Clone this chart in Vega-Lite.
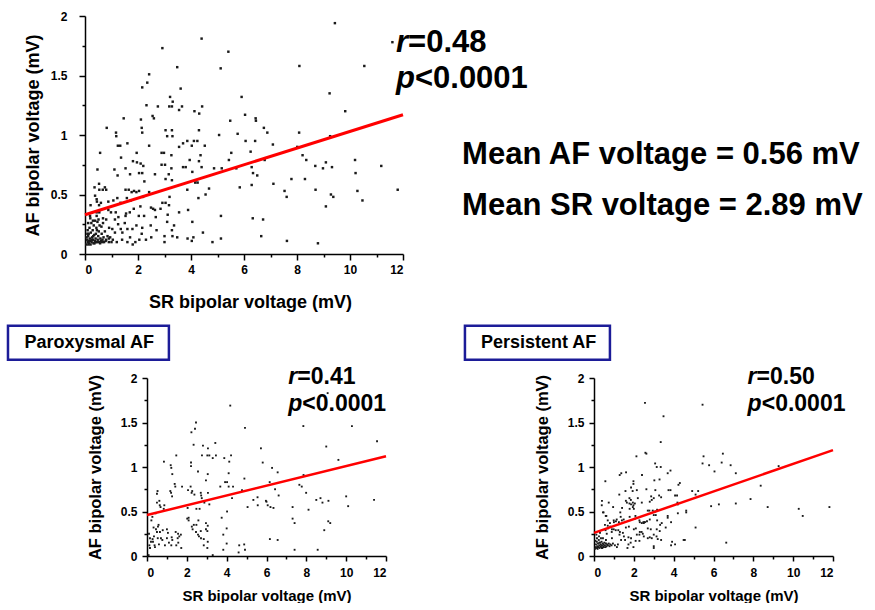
{
"$schema": "https://vega.github.io/schema/vega-lite/v6.json",
"background": "white",
"padding": {"left": 6, "top": 10, "right": 0, "bottom": 0},
"spacing": 13,
"config": {
  "view": {"stroke": null},
  "axis": {"grid": false, "domainColor": "black", "domainWidth": 1.5, "tickColor": "black", "tickWidth": 1.5, "labelFont": "Liberation Sans", "labelFontWeight": "bold", "labelColor": "black", "labelFontSize": 12, "titleFont": "Liberation Sans", "titleFontWeight": "bold", "titleColor": "black"},
  "text": {"font": "Liberation Sans", "fontWeight": "bold", "color": "black"}
},
"datasets": {
  "all": [
{"x":9.43,"y":1.94},{"x":4.40,"y":1.81},{"x":11.6,"y":1.78},{"x":2.92,"y":1.73},{"x":5.41,"y":1.70},{"x":8.09,"y":1.58},{"x":10.54,"y":1.58},{"x":5.12,"y":1.56},{"x":3.48,"y":1.57},{"x":2.42,"y":1.51},{"x":2.35,"y":1.44},{"x":3.61,"y":1.39},{"x":2.16,"y":1.40},{"x":9.23,"y":1.35},{"x":5.91,"y":1.32},{"x":3.21,"y":1.32},{"x":3.31,"y":1.28},{"x":2.32,"y":1.25},{"x":2.75,"y":1.24},{"x":3.18,"y":1.24},{"x":3.28,"y":1.24},{"x":3.66,"y":1.24},{"x":4.42,"y":1.24},{"x":3.55,"y":1.21},{"x":4.13,"y":1.20},{"x":4.31,"y":1.18},{"x":9.82,"y":1.20},{"x":2.55,"y":1.16},{"x":2.6,"y":1.14},{"x":1.46,"y":1.14},{"x":2.11,"y":1.13},{"x":5.48,"y":1.12},{"x":6.04,"y":1.17},{"x":6.44,"y":1.14},{"x":6.45,"y":1.12},{"x":0.82,"y":1.06},{"x":2.14,"y":1.06},{"x":6.75,"y":1.06},{"x":3.04,"y":1.04},{"x":3.28,"y":1.04},{"x":2.16,"y":1.02},{"x":4.30,"y":1.04},{"x":6.88,"y":1.02},{"x":8.08,"y":1.02},{"x":1.17,"y":1.02},{"x":5.76,"y":1.01},{"x":5.06,"y":1.00},{"x":3.1,"y":0.99},{"x":3.3,"y":0.99},{"x":9.25,"y":0.99},{"x":1.18,"y":0.99},{"x":1.60,"y":0.93},{"x":3.70,"y":0.93},{"x":3.86,"y":0.95},{"x":4.03,"y":0.91},{"x":4.11,"y":0.95},{"x":4.24,"y":0.95},{"x":4.52,"y":0.91},{"x":6.06,"y":0.95},{"x":6.42,"y":0.95},{"x":7.09,"y":0.92},{"x":1.24,"y":0.91},{"x":1.33,"y":0.91},{"x":2.42,"y":0.91},{"x":3.55,"y":0.90},{"x":0.57,"y":0.85},{"x":1.95,"y":0.85},{"x":2.89,"y":0.85},{"x":2.98,"y":0.85},{"x":5.52,"y":0.85},{"x":8.01,"y":0.90},{"x":4.36,"y":0.83},{"x":3.26,"y":0.83},{"x":8.21,"y":0.83},{"x":6.25,"y":0.86},{"x":8.35,"y":0.79},{"x":10.19,"y":0.79},{"x":6.78,"y":0.79},{"x":1.81,"y":0.78},{"x":3.95,"y":0.79},{"x":4.30,"y":0.78},{"x":1.36,"y":0.81},{"x":1.96,"y":0.77},{"x":2.10,"y":0.76},{"x":2.20,"y":0.74},{"x":2.89,"y":0.75},{"x":3.02,"y":0.75},{"x":3.7,"y":0.73},{"x":3.8,"y":0.73},{"x":4.40,"y":0.73},{"x":5.43,"y":0.79},{"x":6.29,"y":0.73},{"x":5.71,"y":0.72},{"x":9.09,"y":0.77},{"x":9.32,"y":0.73},{"x":11.18,"y":0.74},{"x":8.69,"y":0.74},{"x":8.98,"y":0.72},{"x":1.11,"y":0.71},{"x":0.47,"y":0.71},{"x":1.53,"y":0.72},{"x":3.26,"y":0.72},{"x":3.16,"y":0.67},{"x":4.87,"y":0.72},{"x":5.16,"y":0.72},{"x":4.05,"y":0.69},{"x":6.34,"y":0.68},{"x":6.50,"y":0.66},{"x":10.21,"y":0.68},{"x":1.23,"y":0.66},{"x":1.70,"y":0.67},{"x":2.04,"y":0.68},{"x":2.16,"y":0.68},{"x":2.64,"y":0.67},{"x":3.04,"y":0.63},{"x":3.28,"y":0.62},{"x":4.19,"y":0.62},{"x":7.79,"y":0.63},{"x":8.30,"y":0.63},{"x":7.11,"y":0.59},{"x":4.16,"y":0.60},{"x":4.25,"y":0.60},{"x":2.24,"y":0.61},{"x":0.53,"y":0.59},{"x":0.75,"y":0.56},{"x":0.36,"y":0.56},{"x":0.54,"y":0.54},{"x":0.67,"y":0.54},{"x":0.8,"y":0.54},{"x":1.85,"y":0.53},{"x":1.94,"y":0.52},{"x":2.04,"y":0.53},{"x":1.53,"y":0.54},{"x":1.65,"y":0.54},{"x":8.70,"y":0.54},{"x":11.8,"y":0.54},{"x":10.28,"y":0.53},{"x":3.86,"y":0.54},{"x":4.68,"y":0.55},{"x":5.84,"y":0.56},{"x":6.29,"y":0.58},{"x":7.53,"y":0.53},{"x":2.42,"y":0.52},{"x":1.76,"y":0.52},{"x":4.55,"y":0.50},{"x":4.28,"y":0.47},{"x":7.61,"y":0.48},{"x":9.28,"y":0.50},{"x":9.37,"y":0.48},{"x":10.47,"y":0.45},{"x":0.38,"y":0.49},{"x":0.44,"y":0.46},{"x":0.45,"y":0.44},{"x":1.22,"y":0.47},{"x":1.58,"y":0.47},{"x":1.72,"y":0.45},{"x":2.19,"y":0.48},{"x":3.19,"y":0.48},{"x":2.92,"y":0.43},{"x":3.04,"y":0.43},{"x":0.21,"y":0.41},{"x":0.6,"y":0.43},{"x":0.53,"y":0.41},{"x":1.07,"y":0.45},{"x":0.88,"y":0.44},{"x":1.34,"y":0.43},{"x":9.09,"y":0.40},{"x":3.89,"y":0.37},{"x":2.49,"y":0.39},{"x":2.64,"y":0.37},{"x":2.57,"y":0.38},{"x":2.09,"y":0.40},{"x":1.84,"y":0.38},{"x":1.16,"y":0.35},{"x":1.55,"y":0.34},{"x":1.69,"y":0.35},{"x":0.88,"y":0.37},{"x":0.98,"y":0.35},{"x":0.44,"y":0.35},{"x":0.54,"y":0.35},{"x":0.19,"y":0.32},{"x":0.44,"y":0.32},{"x":0.51,"y":0.29},{"x":0.68,"y":0.30},{"x":0.80,"y":0.29},{"x":1.13,"y":0.29},{"x":1.26,"y":0.31},{"x":1.53,"y":0.32},{"x":2.03,"y":0.32},{"x":2.23,"y":0.32},{"x":2.67,"y":0.31},{"x":2.85,"y":0.38},{"x":3.12,"y":0.33},{"x":3.55,"y":0.35},{"x":3.17,"y":0.41},{"x":5.13,"y":0.32},{"x":6.33,"y":0.30},{"x":6.72,"y":0.29},{"x":4.05,"y":0.27},{"x":1.94,"y":0.24},{"x":1.79,"y":0.21},{"x":2.16,"y":0.22},{"x":2.48,"y":0.24},{"x":2.70,"y":0.20},{"x":3.1,"y":0.27},{"x":3.36,"y":0.24},{"x":3.28,"y":0.20},{"x":4.45,"y":0.18},{"x":1.35,"y":0.21},{"x":1.41,"y":0.18},{"x":1.13,"y":0.18},{"x":1.03,"y":0.21},{"x":0.91,"y":0.22},{"x":1.6,"y":0.21},{"x":2.14,"y":0.17},{"x":3.0,"y":0.15},{"x":3.0,"y":0.10},{"x":3.3,"y":0.15},{"x":3.48,"y":0.14},{"x":3.87,"y":0.13},{"x":4.03,"y":0.11},{"x":4.09,"y":0.14},{"x":4.81,"y":0.10},{"x":5.13,"y":0.13},{"x":6.65,"y":0.15},{"x":7.62,"y":0.11},{"x":8.79,"y":0.09},
{"x":1.2,"y":0.1},{"x":1.4,"y":0.12},{"x":1.6,"y":0.1},{"x":1.8,"y":0.08},{"x":1.9,"y":0.1},{"x":2.3,"y":0.12},{"x":2.5,"y":0.14},{"x":1.0,"y":0.1},{"x":0.9,"y":0.13},{"x":1.7,"y":0.14},{"x":2.05,"y":0.12},{"x":1.25,"y":0.25},{"x":1.5,"y":0.26},
{"x":0.05,"y":0.08},{"x":0.08,"y":0.12},{"x":0.1,"y":0.1},{"x":0.12,"y":0.15},{"x":0.15,"y":0.09},{"x":0.18,"y":0.13},{"x":0.2,"y":0.11},{"x":0.22,"y":0.18},{"x":0.25,"y":0.1},{"x":0.27,"y":0.14},{"x":0.3,"y":0.12},{"x":0.32,"y":0.09},{"x":0.35,"y":0.16},{"x":0.37,"y":0.11},{"x":0.4,"y":0.13},{"x":0.42,"y":0.1},{"x":0.45,"y":0.2},{"x":0.48,"y":0.12},{"x":0.5,"y":0.15},{"x":0.53,"y":0.1},{"x":0.55,"y":0.24},{"x":0.58,"y":0.13},{"x":0.6,"y":0.11},{"x":0.63,"y":0.17},{"x":0.66,"y":0.12},{"x":0.7,"y":0.14},{"x":0.72,"y":0.1},{"x":0.75,"y":0.19},{"x":0.8,"y":0.12},{"x":0.85,"y":0.15},{"x":0.1,"y":0.2},{"x":0.14,"y":0.17},{"x":0.17,"y":0.22},{"x":0.24,"y":0.26},{"x":0.29,"y":0.2},{"x":0.33,"y":0.24},{"x":0.38,"y":0.28},{"x":0.43,"y":0.22},{"x":0.47,"y":0.27},{"x":0.52,"y":0.19},{"x":0.62,"y":0.23},{"x":0.68,"y":0.26},{"x":0.06,"y":0.14},{"x":0.09,"y":0.17},{"x":0.13,"y":0.08},{"x":0.16,"y":0.11},{"x":0.21,"y":0.08},{"x":0.26,"y":0.12},{"x":0.31,"y":0.15},{"x":0.36,"y":0.09},{"x":0.41,"y":0.17},{"x":0.46,"y":0.1},{"x":0.57,"y":0.09},{"x":0.65,"y":0.1},{"x":0.78,"y":0.11},{"x":0.9,"y":0.1},{"x":0.95,"y":0.14},{"x":1.05,"y":0.12},{"x":0.2,"y":0.3},{"x":0.3,"y":0.28},{"x":0.12,"y":0.26}
  ],
  "par": [
{"x":4.18,"y":1.69},{"x":7.85,"y":1.46},{"x":10.29,"y":1.46},{"x":4.92,"y":1.44},{"x":2.46,"y":1.50},{"x":2.41,"y":1.43},{"x":2.23,"y":1.39},{"x":2.34,"y":1.25},{"x":3.43,"y":1.27},{"x":2.81,"y":1.24},{"x":3.06,"y":1.21},{"x":11.55,"y":1.29},{"x":5.72,"y":1.21},{"x":9.0,"y":1.23},{"x":1.47,"y":1.13},{"x":2.76,"y":1.13},{"x":3.03,"y":1.13},{"x":3.13,"y":1.13},{"x":3.46,"y":1.13},{"x":4.22,"y":1.13},{"x":3.88,"y":1.10},{"x":4.13,"y":1.06},{"x":3.30,"y":1.10},{"x":0.85,"y":1.06},{"x":1.19,"y":1.02},{"x":1.22,"y":0.99},{"x":2.21,"y":1.05},{"x":2.21,"y":1.01},{"x":5.81,"y":1.05},{"x":6.28,"y":0.99},{"x":9.61,"y":1.08},{"x":2.56,"y":0.95},{"x":6.56,"y":0.94},{"x":3.05,"y":0.92},{"x":1.27,"y":0.92},{"x":4.10,"y":0.93},{"x":7.86,"y":0.91},{"x":2.96,"y":0.85},{"x":4.89,"y":0.87},{"x":3.92,"y":0.83},{"x":4.02,"y":0.83},{"x":1.39,"y":0.81},{"x":1.42,"y":0.78},{"x":4.10,"y":0.78},{"x":4.32,"y":0.78},{"x":1.76,"y":0.78},{"x":2.19,"y":0.78},{"x":3.68,"y":0.78},{"x":7.65,"y":0.80},{"x":6.16,"y":0.83},{"x":2.06,"y":0.74},{"x":4.27,"y":0.65},{"x":2.24,"y":0.71},{"x":2.38,"y":0.69},{"x":2.7,"y":0.71},{"x":2.72,"y":0.68},{"x":2.75,"y":0.65},{"x":3.06,"y":0.71},{"x":1.21,"y":0.71},{"x":1.26,"y":0.67},{"x":0.50,"y":0.70},{"x":5.34,"y":0.63},{"x":4.77,"y":0.74},{"x":6.43,"y":0.75},{"x":6.61,"y":0.68},{"x":7.99,"y":0.71},{"x":7.77,"y":0.78},{"x":9.11,"y":0.62},{"x":8.50,"y":0.63},{"x":8.71,"y":0.65},{"x":11.40,"y":0.63},{"x":10.0,"y":0.67},{"x":10.1,"y":0.56},{"x":6.0,"y":0.61},{"x":6.06,"y":0.57},{"x":6.2,"y":0.55},{"x":6.35,"y":0.54},{"x":7.31,"y":0.55},{"x":8.11,"y":0.52},{"x":8.81,"y":0.60},{"x":5.56,"y":0.57},{"x":5.05,"y":0.55},{"x":0.84,"y":0.53},{"x":0.64,"y":0.57},{"x":0.68,"y":0.55},{"x":0.50,"y":0.60},{"x":2.04,"y":0.54},{"x":2.48,"y":0.53},{"x":2.64,"y":0.53},{"x":2.88,"y":0.60},{"x":3.13,"y":0.58},{"x":3.75,"y":0.43},{"x":4.02,"y":0.50},{"x":2.09,"y":0.43},{"x":2.09,"y":0.40},{"x":2.58,"y":0.40},{"x":2.96,"y":0.37},{"x":3.05,"y":0.34},{"x":2.29,"y":0.30},{"x":2.96,"y":0.30},{"x":0.22,"y":0.40},{"x":0.33,"y":0.32},{"x":0.45,"y":0.30},{"x":0.50,"y":0.27},{"x":0.55,"y":0.33},{"x":0.58,"y":0.35},{"x":0.65,"y":0.27},{"x":0.79,"y":0.29},{"x":1.00,"y":0.30},{"x":1.44,"y":0.27},{"x":1.56,"y":0.25},{"x":1.70,"y":0.24},{"x":1.62,"y":0.22},{"x":0.35,"y":0.22},{"x":0.28,"y":0.19},{"x":0.54,"y":0.20},{"x":0.70,"y":0.20},{"x":0.77,"y":0.18},{"x":1.0,"y":0.20},{"x":1.24,"y":0.21},{"x":1.27,"y":0.18},{"x":1.54,"y":0.20},{"x":1.57,"y":0.15},{"x":1.72,"y":0.09},{"x":1.47,"y":0.12},{"x":1.22,"y":0.12},{"x":0.12,"y":0.12},{"x":0.15,"y":0.09},{"x":0.2,"y":0.16},{"x":0.30,"y":0.16},{"x":0.38,"y":0.12},{"x":0.08,"y":0.01},{"x":2.48,"y":0.35},{"x":2.46,"y":0.27},{"x":2.56,"y":0.24},{"x":2.61,"y":0.22},{"x":2.71,"y":0.20},{"x":2.85,"y":0.12},{"x":3.03,"y":0.09},{"x":3.30,"y":0.01},{"x":3.83,"y":0.07},{"x":3.83,"y":0.24},{"x":4.60,"y":0.04},{"x":4.92,"y":0.07},{"x":6.17,"y":0.19},{"x":6.56,"y":0.18},{"x":7.41,"y":0.07},{"x":8.57,"y":0.07},{"x":7.31,"y":0.42},{"x":7.41,"y":0.37},{"x":8.9,"y":0.29},{"x":9.1,"y":0.39},{"x":9.2,"y":0.37},{"x":0.27,"y":0.44},{"x":0.43,"y":0.48},{"x":0.62,"y":0.62},{"x":0.87,"y":0.57},{"x":1.17,"y":0.73},{"x":0.53,"y":0.73},{"x":2.27,"y":0.73},{"x":5.97,"y":0.62},{"x":5.55,"y":0.66},{"x":4.0,"y":0.31},{"x":4.00,"y":0.14},{"x":4.63,"y":0.12},{"x":4.88,"y":0.13},{"x":2.02,"y":0.42},{"x":2.35,"y":0.35},{"x":2.25,"y":0.33},{"x":2.70,"y":0.28},{"x":3.03,"y":0.28},{"x":2.85,"y":0.19},{"x":3.05,"y":0.16},{"x":0.1,"y":0.25},{"x":0.15,"y":0.2},{"x":0.4,"y":0.1},{"x":0.9,"y":0.12},{"x":1.05,"y":0.26},{"x":1.1,"y":0.15},{"x":0.6,"y":0.13},{"x":9.07,"y":1.83}
  ],
  "per": [
{"x":2.56,"y":1.72},{"x":5.45,"y":1.70},{"x":3.49,"y":1.57},{"x":3.35,"y":1.28},{"x":2.58,"y":1.16},{"x":2.63,"y":1.15},{"x":2.13,"y":1.12},{"x":5.50,"y":1.12},{"x":6.47,"y":1.15},{"x":5.45,"y":1.04},{"x":5.78,"y":1.02},{"x":6.41,"y":1.05},{"x":6.86,"y":1.02},{"x":6.05,"y":0.95},{"x":7.12,"y":0.93},{"x":9.27,"y":1.01},{"x":3.07,"y":1.04},{"x":3.15,"y":1.00},{"x":3.35,"y":1.00},{"x":3.70,"y":0.93},{"x":3.84,"y":0.96},{"x":1.29,"y":0.91},{"x":1.37,"y":0.93},{"x":1.61,"y":0.94},{"x":2.41,"y":0.91},{"x":0.57,"y":0.84},{"x":1.98,"y":0.84},{"x":3.03,"y":0.85},{"x":3.29,"y":0.86},{"x":4.31,"y":0.82},{"x":4.24,"y":0.80},{"x":1.98,"y":0.81},{"x":1.27,"y":0.69},{"x":1.58,"y":0.73},{"x":1.86,"y":0.77},{"x":1.94,"y":0.73},{"x":2.15,"y":0.74},{"x":2.63,"y":0.75},{"x":3.08,"y":0.74},{"x":3.74,"y":0.74},{"x":3.84,"y":0.74},{"x":4.07,"y":0.68},{"x":4.17,"y":0.68},{"x":4.93,"y":0.73},{"x":5.23,"y":0.73},{"x":5.10,"y":0.69},{"x":3.27,"y":0.68},{"x":3.37,"y":0.66},{"x":2.87,"y":0.67},{"x":2.9,"y":0.63},{"x":3.0,"y":0.65},{"x":2.8,"y":0.61},{"x":1.78,"y":0.65},{"x":1.85,"y":0.63},{"x":2.2,"y":0.65},{"x":8.37,"y":0.79},{"x":7.86,"y":0.64},{"x":7.12,"y":0.59},{"x":6.27,"y":0.58},{"x":5.88,"y":0.56},{"x":8.72,"y":0.55},{"x":10.28,"y":0.53},{"x":10.48,"y":0.45},{"x":11.82,"y":0.55},{"x":5.10,"y":0.32},{"x":6.64,"y":0.15},{"x":4.63,"y":0.51},{"x":4.63,"y":0.49},{"x":4.19,"y":0.60},{"x":4.21,"y":0.58},{"x":4.21,"y":0.48},{"x":3.87,"y":0.38},{"x":3.70,"y":0.43},{"x":3.07,"y":0.50},{"x":3.17,"y":0.52},{"x":3.0,"y":0.46},{"x":3.1,"y":0.46},{"x":2.7,"y":0.51},{"x":2.78,"y":0.51},{"x":2.56,"y":0.38},{"x":2.66,"y":0.39},{"x":2.48,"y":0.38},{"x":2.28,"y":0.40},{"x":2.06,"y":0.42},{"x":1.98,"y":0.57},{"x":1.95,"y":0.55},{"x":2.0,"y":0.53},{"x":1.79,"y":0.53},{"x":1.41,"y":0.54},{"x":0.96,"y":0.55},{"x":0.39,"y":0.57},{"x":0.45,"y":0.49},{"x":0.59,"y":0.45},{"x":0.69,"y":0.40},{"x":0.99,"y":0.40},{"x":1.14,"y":0.41},{"x":1.34,"y":0.44},{"x":1.40,"y":0.40},{"x":0.55,"y":0.35},{"x":0.69,"y":0.34},{"x":0.82,"y":0.33},{"x":0.99,"y":0.30},{"x":1.09,"y":0.29},{"x":1.22,"y":0.29},{"x":0.89,"y":0.27},{"x":0.64,"y":0.25},{"x":1.28,"y":0.24},{"x":1.36,"y":0.18},{"x":1.56,"y":0.18},{"x":1.73,"y":0.21},{"x":1.86,"y":0.20},{"x":1.73,"y":0.13},{"x":1.68,"y":0.09},{"x":1.84,"y":0.15},{"x":2.09,"y":0.17},{"x":2.28,"y":0.17},{"x":1.98,"y":0.10},{"x":2.70,"y":0.20},{"x":3.0,"y":0.24},{"x":3.14,"y":0.22},{"x":3.0,"y":0.11},{"x":3.0,"y":0.09},{"x":3.37,"y":0.18},{"x":3.87,"y":0.12},{"x":4.07,"y":0.13},{"x":4.56,"y":0.18},{"x":2.28,"y":0.24},{"x":2.39,"y":0.27},{"x":2.53,"y":0.38},{"x":3.40,"y":0.37},{"x":3.32,"y":0.35},{"x":3.60,"y":0.32},{"x":3.92,"y":0.16},{"x":0.40,"y":0.62},{"x":0.74,"y":0.60},{"x":1.6,"y":0.62},{"x":1.65,"y":0.60},{"x":1.78,"y":0.59},{"x":1.86,"y":0.58},{"x":1.95,"y":0.60},{"x":2.05,"y":0.59},{"x":2.4,"y":0.60},{"x":2.95,"y":0.51},{"x":0.48,"y":0.49},{"x":0.62,"y":0.45},{"x":1.32,"y":0.49},{"x":1.79,"y":0.44},{"x":2.08,"y":0.45},{"x":1.49,"y":0.41},{"x":2.3,"y":0.38},{"x":2.4,"y":0.37},{"x":2.5,"y":0.37},{"x":2.8,"y":0.41},{"x":3.17,"y":0.40},{"x":3.7,"y":0.45},{"x":0.8,"y":0.37},{"x":1.0,"y":0.38},{"x":1.1,"y":0.39},{"x":1.25,"y":0.38},{"x":0.7,"y":0.31},{"x":0.58,"y":0.29},{"x":0.9,"y":0.30},{"x":1.6,"y":0.32},{"x":1.75,"y":0.33},{"x":2.0,"y":0.30},{"x":2.1,"y":0.31},{"x":2.3,"y":0.27},{"x":2.45,"y":0.25},{"x":2.15,"y":0.24},{"x":2.7,"y":0.31},{"x":2.85,"y":0.30},{"x":3.15,"y":0.30},{"x":3.3,"y":0.28},{"x":1.3,"y":0.27},{"x":1.45,"y":0.26},{"x":1.5,"y":0.22},{"x":2.5,"y":0.22},{"x":2.8,"y":0.21},{"x":2.9,"y":0.20},{"x":3.2,"y":0.19},{"x":4.5,"y":0.18},
{"x":0.05,"y":0.08},{"x":0.08,"y":0.1},{"x":0.1,"y":0.13},{"x":0.12,"y":0.09},{"x":0.14,"y":0.16},{"x":0.16,"y":0.11},{"x":0.18,"y":0.08},{"x":0.2,"y":0.14},{"x":0.22,"y":0.1},{"x":0.24,"y":0.18},{"x":0.26,"y":0.12},{"x":0.28,"y":0.09},{"x":0.3,"y":0.15},{"x":0.32,"y":0.11},{"x":0.34,"y":0.13},{"x":0.36,"y":0.1},{"x":0.38,"y":0.16},{"x":0.4,"y":0.12},{"x":0.42,"y":0.09},{"x":0.44,"y":0.14},{"x":0.46,"y":0.11},{"x":0.48,"y":0.13},{"x":0.5,"y":0.1},{"x":0.52,"y":0.15},{"x":0.55,"y":0.12},{"x":0.58,"y":0.1},{"x":0.6,"y":0.14},{"x":0.63,"y":0.11},{"x":0.66,"y":0.13},{"x":0.7,"y":0.12},{"x":0.74,"y":0.14},{"x":0.78,"y":0.11},{"x":0.82,"y":0.13},{"x":0.88,"y":0.12},{"x":0.95,"y":0.14},{"x":1.05,"y":0.12},{"x":1.15,"y":0.1},{"x":1.2,"y":0.13},{"x":0.15,"y":0.2},{"x":0.25,"y":0.22},{"x":0.35,"y":0.2},{"x":0.12,"y":0.24},{"x":0.3,"y":0.26},{"x":0.45,"y":0.2},{"x":0.07,"y":0.17},{"x":0.2,"y":0.1},{"x":0.27,"y":0.15},{"x":0.4,"y":0.09},{"x":0.6,"y":0.18},{"x":0.9,"y":0.2}
  ],
  "fit": [
{"panel":"all","x":0,"y":0.33},{"panel":"all","x":12,"y":1.17},
{"panel":"par","x":0,"y":0.46},{"panel":"par","x":12,"y":1.12},
{"panel":"per","x":0,"y":0.26},{"panel":"per","x":12,"y":1.19}
  ],
  "notes": [
{"panel":"all","kind":"ital","x":11.74,"y":1.70,"text":"r"},
{"panel":"all","kind":"plain","x":12.19,"y":1.70,"text":"=0.48"},
{"panel":"all","kind":"ital","x":11.74,"y":1.395,"text":"p"},
{"panel":"all","kind":"plain","x":12.45,"y":1.395,"text":"<0.0001"},
{"panel":"all","kind":"mean","x":14.23,"y":0.756,"text":"Mean AF voltage = 0.56 mV"},
{"panel":"all","kind":"mean","x":14.23,"y":0.328,"text":"Mean SR voltage = 2.89 mV"},
{"panel":"par","kind":"ital","x":7.09,"y":1.936,"text":"r"},
{"panel":"par","kind":"plain","x":7.55,"y":1.936,"text":"=0.41"},
{"panel":"par","kind":"ital","x":7.09,"y":1.626,"text":"p"},
{"panel":"par","kind":"plain","x":7.80,"y":1.626,"text":"<0.0001"},
{"panel":"per","kind":"ital","x":7.71,"y":1.936,"text":"r"},
{"panel":"per","kind":"plain","x":8.16,"y":1.936,"text":"=0.50"},
{"panel":"per","kind":"ital","x":7.71,"y":1.626,"text":"p"},
{"panel":"per","kind":"plain","x":8.42,"y":1.626,"text":"<0.0001"}
  ],
  "boxes": [
{"panel":"par","x":-6.98,"x2":1.10,"y":2.586,"y2":2.205,"xm":-2.90,"ym":2.396,"label":"Paroxysmal AF"},
{"panel":"per","x":-6.48,"x2":0.80,"y":2.586,"y2":2.205,"xm":-2.78,"ym":2.396,"label":"Persistent AF"}
  ]
},
"vconcat": [
{
  "width": 256, "height": 238,
  "resolve": {"axis": {"x": "independent", "y": "independent"}},
  "layer": [
    {"data": {"name": "all"},
     "mark": {"type": "square", "size": 6, "color": "#1a1a1a", "opacity": 1},
     "encoding": {
       "x": {"field": "x", "type": "quantitative", "scale": {"domain": [0, 12], "range": [-62, 256], "nice": false, "zero": false},
             "axis": {"orient": "bottom", "values": [0,2,4,6,8,10,12], "tickSize": 6, "labelPadding": 4, "title": "SR bipolar voltage (mV)", "titleFontSize": 18, "titlePadding": 18, "titleX": 103}},
       "y": {"field": "y", "type": "quantitative", "scale": {"domain": [0, 2], "nice": false, "zero": false},
             "axis": {"orient": "left", "offset": 62, "values": [0,0.5,1,1.5,2], "format": "~g", "tickSize": 6, "labelPadding": 12, "title": "AF bipolar voltage (mV)", "titleFontSize": 18, "titlePadding": 8}}
     }},
    {"data": {"name": "fit"}, "transform": [{"filter": "datum.panel == 'all'"}],
     "mark": {"type": "line", "color": "#ff0000", "strokeWidth": 3},
     "encoding": {
       "x": {"field": "x", "type": "quantitative", "axis": {"orient": "bottom", "values": [1,3,5,7,9,11], "tickSize": 3, "labels": false, "domain": false, "title": null}},
       "y": {"field": "y", "type": "quantitative", "axis": {"orient": "left", "offset": 62, "values": [0.25,0.75,1.25,1.75], "tickSize": 3, "labels": false, "domain": false, "title": null}}
     }},
    {"data": {"name": "notes"}, "transform": [{"filter": "datum.panel == 'all' && datum.kind == 'ital'"}],
     "mark": {"type": "text", "fontSize": 31, "fontStyle": "italic", "align": "left", "baseline": "alphabetic"},
     "encoding": {"x": {"field": "x", "type": "quantitative", "axis": null}, "y": {"field": "y", "type": "quantitative", "axis": null}, "text": {"field": "text"}}},
    {"data": {"name": "notes"}, "transform": [{"filter": "datum.panel == 'all' && datum.kind == 'plain'"}],
     "mark": {"type": "text", "fontSize": 31, "align": "left", "baseline": "alphabetic"},
     "encoding": {"x": {"field": "x", "type": "quantitative", "axis": null}, "y": {"field": "y", "type": "quantitative", "axis": null}, "text": {"field": "text"}}},
    {"data": {"name": "notes"}, "transform": [{"filter": "datum.panel == 'all' && datum.kind == 'mean'"}],
     "mark": {"type": "text", "fontSize": 31, "align": "left", "baseline": "alphabetic"},
     "encoding": {"x": {"field": "x", "type": "quantitative", "axis": null}, "y": {"field": "y", "type": "quantitative", "axis": null}, "text": {"field": "text"}}}
  ]
},
{
  "spacing": 72,
  "hconcat": [
  {
    "width": 239, "height": 178,
    "resolve": {"axis": {"x": "independent", "y": "independent"}},
    "layer": [
      {"data": {"name": "boxes"}, "transform": [{"filter": "datum.panel == 'par'"}],
       "mark": {"type": "rect", "fill": "white", "stroke": "#1c1c98", "strokeWidth": 2.5},
       "encoding": {
         "x": {"field": "x", "type": "quantitative", "scale": {"domain": [0, 12], "nice": false, "zero": false}, "axis": null},
         "x2": {"field": "x2"},
         "y": {"field": "y", "type": "quantitative", "scale": {"domain": [0, 2], "nice": false, "zero": false}, "axis": null},
         "y2": {"field": "y2"}
       }},
      {"data": {"name": "boxes"}, "transform": [{"filter": "datum.panel == 'par'"}],
       "mark": {"type": "text", "fontSize": 18, "align": "center", "baseline": "middle"},
       "encoding": {"x": {"field": "xm", "type": "quantitative", "axis": null}, "y": {"field": "ym", "type": "quantitative", "axis": null}, "text": {"field": "label"}}},
      {"data": {"name": "par"},
       "mark": {"type": "square", "size": 3.5, "color": "#1a1a1a", "opacity": 1},
       "encoding": {
         "x": {"field": "x", "type": "quantitative",
               "axis": {"orient": "bottom", "values": [0,2,4,6,8,10,12], "tickSize": 5, "labelPadding": 6, "title": "SR bipolar voltage (mV)", "titleFontSize": 15, "titlePadding": 10}},
         "y": {"field": "y", "type": "quantitative",
               "axis": {"orient": "left", "values": [0,0.5,1,1.5,2], "format": "~g", "tickSize": 5, "labelPadding": 5, "title": "AF bipolar voltage (mV)", "titleFontSize": 16.5, "titleX": -44}}
       }},
      {"data": {"name": "fit"}, "transform": [{"filter": "datum.panel == 'par'"}],
       "mark": {"type": "line", "color": "#ff0000", "strokeWidth": 2.5},
       "encoding": {
         "x": {"field": "x", "type": "quantitative", "axis": {"orient": "bottom", "values": [1,3,5,7,9,11], "tickSize": 3, "labels": false, "domain": false, "title": null}},
         "y": {"field": "y", "type": "quantitative", "axis": {"orient": "left", "values": [0.25,0.75,1.25,1.75], "tickSize": 3, "labels": false, "domain": false, "title": null}}
       }},
      {"data": {"name": "notes"}, "transform": [{"filter": "datum.panel == 'par' && datum.kind == 'ital'"}],
       "mark": {"type": "text", "fontSize": 23, "fontStyle": "italic", "align": "left", "baseline": "alphabetic"},
       "encoding": {"x": {"field": "x", "type": "quantitative", "axis": null}, "y": {"field": "y", "type": "quantitative", "axis": null}, "text": {"field": "text"}}},
      {"data": {"name": "notes"}, "transform": [{"filter": "datum.panel == 'par' && datum.kind == 'plain'"}],
       "mark": {"type": "text", "fontSize": 23, "align": "left", "baseline": "alphabetic"},
       "encoding": {"x": {"field": "x", "type": "quantitative", "axis": null}, "y": {"field": "y", "type": "quantitative", "axis": null}, "text": {"field": "text"}}}
    ]
  },
  {
    "width": 239, "height": 178,
    "resolve": {"axis": {"x": "independent", "y": "independent"}},
    "layer": [
      {"data": {"name": "boxes"}, "transform": [{"filter": "datum.panel == 'per'"}],
       "mark": {"type": "rect", "fill": "white", "stroke": "#1c1c98", "strokeWidth": 2.5},
       "encoding": {
         "x": {"field": "x", "type": "quantitative", "scale": {"domain": [0, 12], "nice": false, "zero": false}, "axis": null},
         "x2": {"field": "x2"},
         "y": {"field": "y", "type": "quantitative", "scale": {"domain": [0, 2], "nice": false, "zero": false}, "axis": null},
         "y2": {"field": "y2"}
       }},
      {"data": {"name": "boxes"}, "transform": [{"filter": "datum.panel == 'per'"}],
       "mark": {"type": "text", "fontSize": 18, "align": "center", "baseline": "middle"},
       "encoding": {"x": {"field": "xm", "type": "quantitative", "axis": null}, "y": {"field": "ym", "type": "quantitative", "axis": null}, "text": {"field": "label"}}},
      {"data": {"name": "per"},
       "mark": {"type": "square", "size": 3.5, "color": "#1a1a1a", "opacity": 1},
       "encoding": {
         "x": {"field": "x", "type": "quantitative",
               "axis": {"orient": "bottom", "values": [0,2,4,6,8,10,12], "tickSize": 5, "labelPadding": 6, "title": "SR bipolar voltage (mV)", "titleFontSize": 15, "titlePadding": 10}},
         "y": {"field": "y", "type": "quantitative",
               "axis": {"orient": "left", "values": [0,0.5,1,1.5,2], "format": "~g", "tickSize": 5, "labelPadding": 5, "title": "AF bipolar voltage (mV)", "titleFontSize": 16.5, "titleX": -44}}
       }},
      {"data": {"name": "fit"}, "transform": [{"filter": "datum.panel == 'per'"}],
       "mark": {"type": "line", "color": "#ff0000", "strokeWidth": 2.5},
       "encoding": {
         "x": {"field": "x", "type": "quantitative", "axis": {"orient": "bottom", "values": [1,3,5,7,9,11], "tickSize": 3, "labels": false, "domain": false, "title": null}},
         "y": {"field": "y", "type": "quantitative", "axis": {"orient": "left", "values": [0.25,0.75,1.25,1.75], "tickSize": 3, "labels": false, "domain": false, "title": null}}
       }},
      {"data": {"name": "notes"}, "transform": [{"filter": "datum.panel == 'per' && datum.kind == 'ital'"}],
       "mark": {"type": "text", "fontSize": 23, "fontStyle": "italic", "align": "left", "baseline": "alphabetic"},
       "encoding": {"x": {"field": "x", "type": "quantitative", "axis": null}, "y": {"field": "y", "type": "quantitative", "axis": null}, "text": {"field": "text"}}},
      {"data": {"name": "notes"}, "transform": [{"filter": "datum.panel == 'per' && datum.kind == 'plain'"}],
       "mark": {"type": "text", "fontSize": 23, "align": "left", "baseline": "alphabetic"},
       "encoding": {"x": {"field": "x", "type": "quantitative", "axis": null}, "y": {"field": "y", "type": "quantitative", "axis": null}, "text": {"field": "text"}}}
    ]
  }
  ]
}
]
}
